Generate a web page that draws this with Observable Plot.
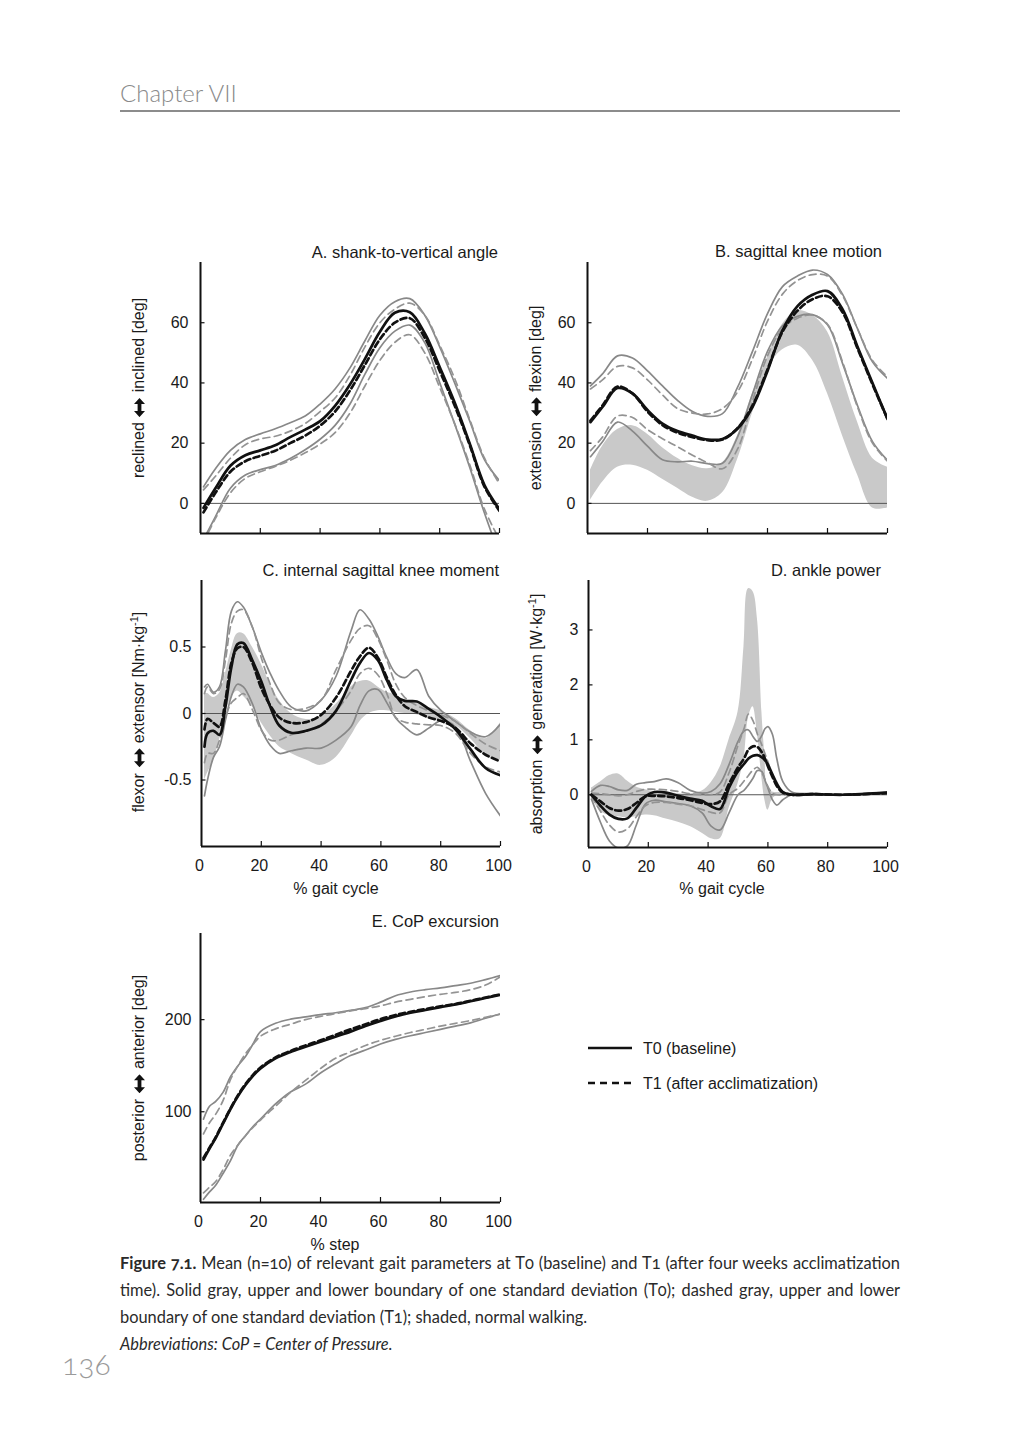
<!DOCTYPE html>
<html><head><meta charset="utf-8">
<script src="https://cdn.jsdelivr.net/npm/d3@7"></script>
<script src="https://cdn.jsdelivr.net/npm/@observablehq/plot@0.6"></script>
<style>
html,body{margin:0;padding:0;background:#fff;}
#page{position:relative;width:1020px;height:1440px;overflow:hidden;background:#fff;font-family:'Liberation Sans',Arial,sans-serif;color:#1a1a1a;}
.abs{position:absolute;white-space:nowrap;}
.t{font-size:16px;line-height:16px;}
.tt{font-size:16.5px;line-height:16px;}
.ylab{position:absolute;font-size:16px;line-height:18px;white-space:nowrap;transform:translate(-50%,-50%) rotate(-90deg);}
.ylab svg{vertical-align:-1px;margin:0 1px;}
.ylab sup{font-size:11px;line-height:0;vertical-align:6px;}
.cap{position:absolute;font-family:Lato,'Open Sans',sans-serif;font-size:16.4px;line-height:27px;color:#2a2a2a;font-feature-settings:"onum";}
.j{text-align:justify;text-align-last:justify;}
</style></head><body><div id="page"></div>
<script>
// ---------------- DATA ----------------
const X_TICKS = [0, 20, 40, 60, 80, 100];

// A. shank-to-vertical angle
const X_AB = [1,5,10,15,20,25,30,35,40,45,50,55,60,65,70,75,80,85,90,95,100];
const A_T0    = [-1.5,5,12.5,16,17.6,19.3,22,24.5,27.3,32.4,39.5,48,57,63.3,63.5,56.5,45.3,33.5,20,6,-2];
const A_T1    = [-3,3.5,10.5,14,15.8,17.5,20,22.5,25.8,30.5,37.5,46,54.5,60,61.5,55,44,32.5,19.5,5.5,-2.5];
const A_T0_HI = [5.5,11.5,17.6,21.2,23.1,24.8,26.8,29,33,38,45,54,62.5,67,68,62.5,52,40,27.5,14.5,7.5];
const A_T0_LO = [-12,-4.4,5,9.4,11.2,12.6,14.9,17.8,21.3,25.9,33,42.9,51.7,57.2,59.2,53.4,40.1,26.4,12.1,-3.3,-17];
const A_T1_HI = [4.5,9,15,19.5,21.4,22.3,24,26.5,30.5,35,42.5,52,60,64.5,66.5,62.5,52.5,41.5,28,15,6.5];
const A_T1_LO = [-13,-5,3.5,8.3,10.5,12.3,14.3,16.8,19.7,23.5,30,39,47.5,53.5,56,50,38.5,26.5,13,-2,-12];

// B. sagittal knee motion
const B_T0    = [27,32,38.3,36.5,31,26.5,24,22.5,21.2,21.4,24.8,32,44,57.5,65.5,69.3,70.5,64.5,52,40,28];
const B_T1    = [27.5,32.5,38.8,36.5,30.5,26,23.5,22,21,21.2,25,32.5,44.5,57,64,67.8,68.8,63.5,51.5,39.5,28];
const B_T0_HI = [39,43,49,48.3,44,39,34.2,30.5,28.9,29.8,38.5,50.5,63,72,75.5,77.5,76,69.5,58,47,41.5];
const B_T0_LO = [15.5,20.5,27,24,19,14.5,13.8,14,13.2,13.3,22,36.3,50.5,59,62.1,62.7,59.3,46.5,32.5,20.5,14.3];
const B_T1_HI = [38,41,45.5,45,41,36,31.5,30,29.7,31.5,37,48,60.5,69.5,74,76,75.5,69,58,47.5,42];
const B_T1_LO = [17.5,22,29,28.5,24.5,21.5,18.8,16,13.5,11.5,18,34,49,58,61.5,62.5,59.5,47,32,20,14];
const B_N_HI  = [11,19,24.5,25.8,23,18.5,15,12.5,11.5,13.5,22.5,36.5,48.5,59.5,64,62.5,57,42,27,15,12];
const B_N_LO  = [1,7,12,12.7,11,8,5,2,0.7,3.5,14.5,30,44.5,51,52.5,47.5,36.5,22.5,9.5,-1.5,-1.5];

// C. internal sagittal knee moment
const X_C = [1,2,4,6,8,10,12,14,17,20,23,26,30,35,40,45,50,53,56,59,62,65,68,72,76,80,85,90,95,100];
const C_T0    = [-0.25,-0.15,-0.13,-0.16,0.05,0.35,0.52,0.53,0.4,0.24,0.05,-0.09,-0.145,-0.13,-0.09,0.02,0.25,0.38,0.455,0.4,0.25,0.13,0.095,0.09,0.035,-0.025,-0.12,-0.27,-0.41,-0.465];
const C_T1    = [-0.12,-0.04,-0.07,-0.1,0.1,0.38,0.49,0.5,0.38,0.19,0.06,-0.03,-0.07,-0.065,-0.01,0.12,0.32,0.43,0.495,0.42,0.27,0.14,0.055,0.012,-0.03,-0.055,-0.11,-0.225,-0.31,-0.36];
const C_T0_HI = [0.2,0.22,0.16,0.2,0.47,0.77,0.84,0.8,0.65,0.46,0.3,0.17,0.05,0.02,0.1,0.28,0.62,0.78,0.71,0.58,0.42,0.3,0.27,0.33,0.13,0.025,-0.06,-0.14,-0.175,-0.08];
const C_T0_LO = [-0.62,-0.5,-0.33,-0.25,-0.05,0.13,0.22,0.2,0.075,-0.12,-0.24,-0.3,-0.28,-0.26,-0.26,-0.2,-0.1,0.06,0.17,0.18,0.08,-0.035,-0.1,-0.16,-0.11,-0.055,-0.1,-0.36,-0.6,-0.77];
const C_T1_HI = [0.15,0.2,0.15,0.18,0.4,0.68,0.77,0.78,0.65,0.42,0.22,0.08,0.03,0.04,0.1,0.33,0.55,0.64,0.66,0.56,0.4,0.22,0.12,0.06,0.02,-0.01,-0.06,-0.15,-0.23,-0.28];
const C_T1_LO = [-0.37,-0.3,-0.3,-0.2,-0.03,0.08,0.12,0.15,0.03,-0.125,-0.2,-0.2,-0.16,-0.13,-0.08,0.02,0.17,0.3,0.34,0.29,0.15,-0.03,-0.065,-0.078,-0.085,-0.09,-0.15,-0.3,-0.4,-0.44];
const C_N_HI  = [0.15,0.15,0.12,0.15,0.3,0.48,0.6,0.6,0.5,0.37,0.22,0.1,0.0,-0.045,-0.02,0.07,0.2,0.24,0.245,0.2,0.16,0.14,0.1,0.075,0.045,0.02,-0.04,-0.13,-0.19,-0.07];
const C_N_LO  = [-0.5,-0.45,-0.35,-0.2,0.0,0.12,0.17,0.13,0.05,-0.07,-0.17,-0.25,-0.3,-0.35,-0.39,-0.33,-0.17,-0.06,0.0,0.02,0.02,0.01,0.0,-0.01,-0.035,-0.05,-0.09,-0.19,-0.31,-0.35];

// D. ankle power
const X_D = [1,4,7,10,13,16,19,22,26,30,34,38,41,44,47,50,52,53.5,55,56.5,58,59,60,61.5,63,65,68,75,85,100];
const D_T0    = [0,-0.2,-0.36,-0.44,-0.43,-0.24,-0.03,0.05,0.04,-0.02,-0.07,-0.11,-0.21,-0.26,0.13,0.43,0.56,0.66,0.71,0.72,0.68,0.63,0.55,0.37,0.2,0.05,0,0.01,0,0.04];
const D_T1    = [0,-0.12,-0.24,-0.29,-0.26,-0.15,-0.03,-0.02,-0.03,-0.06,-0.1,-0.15,-0.17,-0.12,0.2,0.5,0.66,0.82,0.88,0.87,0.77,0.66,0.52,0.33,0.16,0.04,0,0.01,0,0.03];
const D_T0_HI = [0.06,0.17,0.15,0.09,0.08,0.19,0.22,0.24,0.29,0.22,0.08,0.03,0.06,0.2,0.55,0.97,1.16,1.18,1.06,0.97,1.08,1.2,1.24,1.1,0.65,0.24,0.05,0.02,0,0.05];
const D_T0_LO = [-0.08,-0.5,-0.84,-0.97,-0.93,-0.55,-0.17,-0.1,-0.13,-0.16,-0.2,-0.33,-0.57,-0.64,-0.33,0,0.08,0.18,0.3,0.44,0.42,0.27,0.12,-0.09,-0.19,-0.09,0,0,0,0.03];
const D_T1_HI = [0.03,0.02,0,-0.02,0,0.06,0.1,0.1,0.09,0.06,0.02,0,0,0.05,0.4,0.9,1.2,1.47,1.35,1.1,0.9,0.75,0.6,0.35,0.15,0.05,0.01,0.02,0,0.04];
const D_T1_LO = [-0.03,-0.3,-0.55,-0.68,-0.62,-0.4,-0.2,-0.14,-0.14,-0.17,-0.2,-0.27,-0.32,-0.33,0,0.12,0.25,0.35,0.45,0.5,0.4,0.28,0.15,0.03,0,0,0,0,0,0.02];
const D_N_HI  = [0.12,0.23,0.35,0.38,0.25,0.14,0.09,0.06,0.04,0.02,0.02,0.07,0.22,0.5,1.0,1.5,2.7,3.75,3.7,3.2,1.5,0.7,0.1,0.05,0.04,0.04,0.03,0.02,0,0.03];
const D_N_LO  = [-0.05,-0.3,-0.38,-0.4,-0.42,-0.4,-0.37,-0.38,-0.44,-0.5,-0.58,-0.7,-0.8,-0.8,-0.25,0.2,0.65,1.4,1.6,1.1,0.3,-0.1,-0.28,-0.08,-0.02,0,0,0,-0.02,0];

// E. CoP excursion
const X_E = [1,3,5,7.5,10,12.5,15,17.5,20,25,30,35,40,45,50,55,60,65,70,75,80,85,90,95,100];
const E_T0    = [48,60,71,87,103,117,129,139,147,158,165,170.5,176,181.5,187,193,198.5,203.5,207.5,210.5,213.5,216.5,220,223.5,227];
const E_T1    = [50,61,72,88,103.5,118,130,140,148,159,166,172,177.5,183.5,189.5,195,200.5,205,208.5,211.5,214.5,217,220.5,224,227.5];
const E_T0_HI = [92,106,111,121,138,150,160,173.5,187,196,200.5,203,205.5,207.5,210,213,219,226,230,232.5,234.5,237,239.5,243.5,248];
const E_T0_LO = [5,13,20,33,47,64,74,84,92,108.5,121.5,130,142,152,161,167,173.5,178.5,182.5,186,189.5,193,196.5,201.5,206];
const E_T1_HI = [76,88,97,112,135,150,163,173,182,190,195,200,203.5,206.5,209.5,212,215,219,222,225,227.5,229.5,232.5,237.5,246.5];
const E_T1_LO = [12,18,24,37,53,64,74,83,91,106,121,134,147,158,165,172,177.5,182,186,189.5,193,196,199,202.5,206];

const LEGEND = ["T0 (baseline)", "T1 (after acclimatization)"];

// ---------------- LAYOUT ----------------
const page = document.getElementById("page");
const ARROW = '<svg width="19" height="11" viewBox="0 0 19 11"><path d="M0 5.5 L6 0 L6 3.6 L13 3.6 L13 0 L19 5.5 L13 11 L13 7.4 L6 7.4 L6 11 Z" fill="#111"/></svg>';
const panels = [
  {title:"A. shank-to-vertical angle", ylab:['reclined', 'inclined [deg]'], x:X_AB,
   s:{t0:A_T0,t1:A_T1,t0hi:A_T0_HI,t0lo:A_T0_LO,t1hi:A_T1_HI,t1lo:A_T1_LO},
   yDomain:[-10,80], yTicks:[0,20,40,60], L:200,R:499,T:262,B:533, zero:true, xLabels:false, yPad:12,
   titleR:498, titleBase:257, ylabC:[139,388]},
  {title:"B. sagittal knee motion", ylab:['extension', 'flexion [deg]'], x:X_AB,
   s:{t0:B_T0,t1:B_T1,t0hi:B_T0_HI,t0lo:B_T0_LO,t1hi:B_T1_HI,t1lo:B_T1_LO,nhi:B_N_HI,nlo:B_N_LO},
   yDomain:[-10,80], yTicks:[0,20,40,60], L:587,R:887,T:262,B:533, zero:true, xLabels:false, yPad:12,
   titleR:882, titleBase:256, ylabC:[536,398]},
  {title:"C. internal sagittal knee moment", ylab:['flexor', 'extensor [Nm·kg', '-1', ']'], x:X_C,
   s:{t0:C_T0,t1:C_T1,t0hi:C_T0_HI,t0lo:C_T0_LO,t1hi:C_T1_HI,t1lo:C_T1_LO,nhi:C_N_HI,nlo:C_N_LO},
   yDomain:[-1,1], yTicks:[-0.5,0,0.5], L:201,R:500,T:580,B:846, zero:true, xLabels:true, yPad:10,
   titleR:499, titleBase:575, ylabC:[139,712], xlab:"% gait cycle", xlabC:[336,894.5]},
  {title:"D. ankle power", ylab:['absorption', 'generation [W·kg', '-1', ']'], x:X_D,
   s:{t0:D_T0,t1:D_T1,t0hi:D_T0_HI,t0lo:D_T0_LO,t1hi:D_T1_HI,t1lo:D_T1_LO,nhi:D_N_HI,nlo:D_N_LO},
   yDomain:[-0.96,3.9], yTicks:[0,1,2,3], L:588,R:887,T:580,B:847, zero:true, xLabels:true, yPad:10,
   titleR:881, titleBase:575, ylabC:[537,714], xlab:"% gait cycle", xlabC:[722,894.5]},
  {title:"E. CoP excursion", ylab:['posterior', 'anterior [deg]'], x:X_E,
   s:{t0:E_T0,t1:E_T1,t0hi:E_T0_HI,t0lo:E_T0_LO,t1hi:E_T1_HI,t1lo:E_T1_LO},
   yDomain:[1.5,293.5], yTicks:[100,200], L:200,R:500,T:933,B:1202, zero:false, xLabels:true, yPad:9,
   titleR:499, titleBase:926, ylabC:[139,1068], xlab:"% step", xlabC:[335,1250]}
];

function makePanel(p) {
  const mL = 60, mR = 14, mT = 10, mB = 40;
  const W = p.R - p.L + mL + mR, H = p.B - p.T + mT + mB;
  const rows = p.x.map((x, i) => { const r = {x}; for (const k in p.s) r[k] = p.s[k][i]; return r; });
  const [y0, y1] = p.yDomain;
  const yTick = (y1 - y0) * 5 / (p.B - p.T);
  const xTick = 100 * 4.5 / (p.R - p.L);
  const curve = "catmull-rom";
  const marks = [];
  if (p.s.nlo) marks.push(Plot.areaY(rows, {x:"x", y1:"nlo", y2:"nhi", fill:"#c9c9c9", curve, clip:true}));
  if (p.zero) marks.push(Plot.ruleY([0], {stroke:"#555", strokeWidth:1}));
  for (const k of ["t0hi","t0lo"]) marks.push(Plot.lineY(rows, {x:"x", y:k, stroke:"#888", strokeWidth:1.7, curve, clip:true}));
  for (const k of ["t1hi","t1lo"]) marks.push(Plot.lineY(rows, {x:"x", y:k, stroke:"#939393", strokeWidth:1.7, strokeDasharray:"7,4.5", curve, clip:true}));
  marks.push(Plot.lineY(rows, {x:"x", y:"t1", stroke:"#111", strokeWidth:2.7, strokeDasharray:"6,3.5", curve, clip:true}));
  marks.push(Plot.lineY(rows, {x:"x", y:"t0", stroke:"#111", strokeWidth:2.7, curve, clip:true}));
  marks.push(Plot.ruleX([0], {stroke:"#111", strokeWidth:2}));
  marks.push(Plot.ruleY([y0], {stroke:"#111", strokeWidth:2}));
  marks.push(Plot.ruleY(p.yTicks, {x1:0, x2:xTick, stroke:"#111", strokeWidth:1.2}));
  marks.push(Plot.ruleX(X_TICKS.slice(1), {y1:y0, y2:y0 + yTick, stroke:"#111", strokeWidth:1.2}));
  marks.push(Plot.axisY({ticks:p.yTicks, tickSize:0, tickPadding:p.yPad, tickFormat:d => String(d), label:null}));
  if (p.xLabels) marks.push(Plot.axisX({ticks:X_TICKS, tickSize:0, tickPadding:13, dx:-2, tickFormat:d => String(d), label:null}));
  const svg = Plot.plot({
    width:W, height:H, marginLeft:mL, marginRight:mR, marginTop:mT, marginBottom:mB,
    x:{domain:[0,100], axis: p.xLabels ? undefined : null, label:null},
    y:{domain:p.yDomain, label:null},
    style:{fontFamily:"'Liberation Sans', Arial, sans-serif", fontSize:"16px", color:"#1a1a1a", background:"transparent", overflow:"visible"},
    marks
  });
  svg.style.position = "absolute";
  svg.style.left = (p.L - mL) + "px";
  svg.style.top = (p.T - mT) + "px";
  svg.style.maxWidth = "none";
  page.appendChild(svg);

  const t = document.createElement("div");
  t.className = "abs tt";
  t.textContent = p.title;
  t.style.right = (1020 - p.titleR) + "px";
  t.style.top = (p.titleBase - 13.5) + "px";
  page.appendChild(t);

  const y = document.createElement("div");
  y.className = "ylab";
  y.style.left = p.ylabC[0] + "px";
  y.style.top = p.ylabC[1] + "px";
  const parts = p.ylab;
  let html = parts[0] + " " + ARROW + " " + parts[1];
  if (parts.length > 2) html += "<sup>" + parts[2] + "</sup>" + parts[3];
  y.innerHTML = html;
  page.appendChild(y);

  if (p.xlab) {
    const xl = document.createElement("div");
    xl.className = "abs t";
    xl.textContent = p.xlab;
    xl.style.left = p.xlabC[0] + "px";
    xl.style.top = (p.xlabC[1] - 13.5) + "px";
    xl.style.transform = "translateX(-50%)";
    page.appendChild(xl);
  }
}
panels.forEach(makePanel);

// legend
const lg = document.createElement("div");
lg.innerHTML = `
<svg class="abs" style="left:585px;top:1038px;overflow:visible" width="52" height="60">
  <line x1="3" x2="47" y1="10" y2="10" stroke="#111" stroke-width="2.7"/>
  <line x1="3" x2="47" y1="45" y2="45" stroke="#111" stroke-width="2.7" stroke-dasharray="7,5"/>
</svg>
<div class="abs t" style="left:643px;top:${1054-13.5}px">${LEGEND[0]}</div>
<div class="abs t" style="left:643px;top:${1089-13.5}px">${LEGEND[1]}</div>`;
page.appendChild(lg);

// header, caption, page number
const hd = document.createElement("div");
hd.innerHTML = `
<div class="abs" style="left:120px;top:81px;font-family:Lato,'Open Sans',sans-serif;font-weight:300;font-size:24px;line-height:24px;color:#8a8a8a;">Chapter VII</div>
<div class="abs" style="left:120px;top:110px;width:780px;height:2px;background:#8c8c8c;"></div>
<div class="cap" style="left:120px;top:1249px;width:780px;">
  <div class="j"><b>Figure 7.1.</b> Mean (n=10) of relevant gait parameters at T0 (baseline) and T1 (after four weeks acclimatization</div>
  <div class="j">time). Solid gray, upper and lower boundary of one standard deviation (T0); dashed gray, upper and lower</div>
  <div>boundary of one standard deviation (T1); shaded, normal walking.</div>
  <div><i>Abbreviations: CoP = Center of Pressure.</i></div>
</div>
<div class="abs" style="left:62px;top:1348px;font-family:Lato,'Open Sans',sans-serif;font-weight:300;font-size:30px;line-height:30px;color:#9a9a9a;font-feature-settings:'onum';">136</div>`;
page.appendChild(hd);
</script>
</body></html>
